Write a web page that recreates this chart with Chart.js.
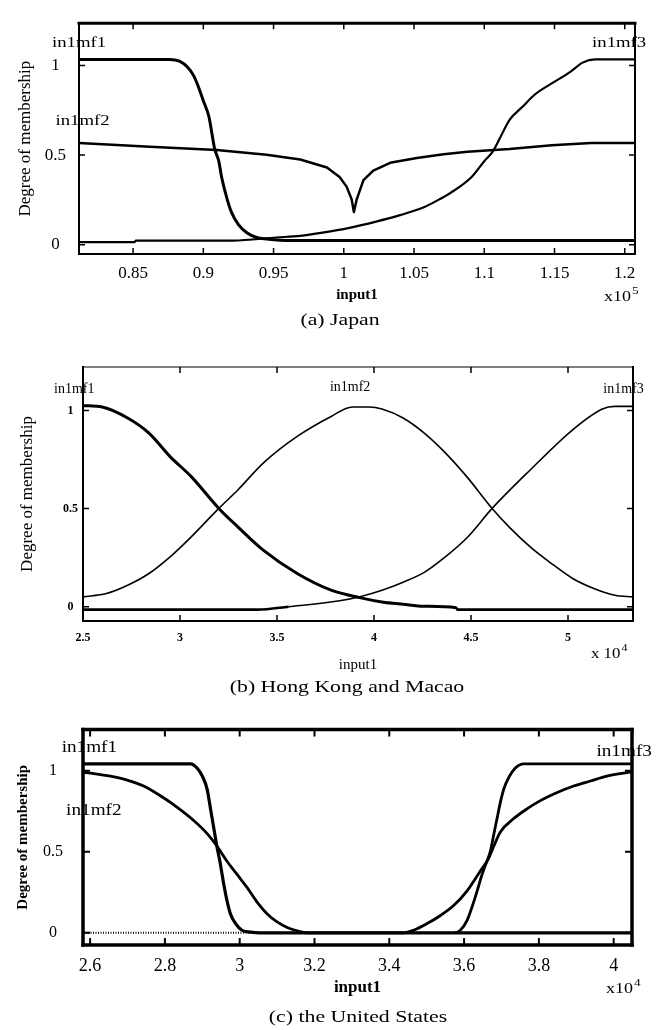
<!DOCTYPE html>
<html>
<head>
<meta charset="utf-8">
<title>Membership functions of input1</title>
<script src="https://cdn.jsdelivr.net/npm/chart.js@4.4.1/dist/chart.umd.min.js"></script>
<style>
  html, body { margin: 0; padding: 0; background: #fff; }
  #page { position: relative; width: 661px; height: 1030px; overflow: hidden; }
  #page canvas { position: absolute; left: 0; }
</style>
</head>
<body>
<div id="page">
  <canvas id="japanChart"></canvas>
  <canvas id="hkChart"></canvas>
  <canvas id="usChart"></canvas>
</div>
<script>
// ---------- (a) Japan, input1 in units of 1e5 ----------
const japanXTicks = [0.85, 0.9, 0.95, 1, 1.05, 1.1, 1.15, 1.2];
const japanXLabels = ['0.85', '0.9', '0.95', '1', '1.05', '1.1', '1.15', '1.2'];
const japanYTicks = [0, 0.5, 1];
const japanYLabels = ['0', '0.5', '1'];

const japanMf1X = [0.8115, 0.876, 0.883, 0.889, 0.893, 0.896, 0.900, 0.904, 0.906, 0.908, 0.911, 0.913, 0.917, 0.920, 0.925, 0.931, 0.938, 0.945, 0.962, 1.2073];
const japanMf1Y = [1.034, 1.034, 1.024, 0.989, 0.945, 0.891, 0.803, 0.714, 0.626, 0.537, 0.466, 0.378, 0.253, 0.182, 0.112, 0.067, 0.040, 0.032, 0.023, 0.023];

const japanMf2X = [0.8115, 0.862, 0.9095, 0.945, 0.969, 0.988, 0.997, 1.002, 1.0056, 1.0072, 1.0092, 1.014, 1.021, 1.033, 1.052, 1.071, 1.088, 1.118, 1.148, 1.176, 1.2073];
const japanMf2Y = [0.567, 0.546, 0.528, 0.502, 0.475, 0.431, 0.378, 0.324, 0.253, 0.182, 0.253, 0.360, 0.413, 0.457, 0.484, 0.505, 0.519, 0.534, 0.555, 0.567, 0.567];

const japanMf3X = [0.8115, 0.851, 0.852, 0.921, 0.952, 0.969, 0.985, 1.004, 1.023, 1.040, 1.057, 1.068, 1.076, 1.091, 1.100, 1.106, 1.112, 1.118, 1.127, 1.136, 1.148, 1.161, 1.170, 1.179, 1.2073];
const japanMf3Y = [0.014, 0.014, 0.023, 0.023, 0.040, 0.049, 0.067, 0.094, 0.129, 0.165, 0.209, 0.253, 0.289, 0.378, 0.466, 0.519, 0.608, 0.697, 0.768, 0.838, 0.900, 0.963, 1.016, 1.034, 1.034];

const japanMfNames = ['in1mf1', 'in1mf2', 'in1mf3'];
const japanMfNameX = [0.8115, 0.814, 1.196];
const japanMfNameY = [1.124, 0.688, 1.124];

// ---------- (b) Hong Kong and Macao, input1 in units of 1e4 ----------
const hkXTicks = [2.5, 3, 3.5, 4, 4.5, 5];
const hkXLabels = ['2.5', '3', '3.5', '4', '4.5', '5'];
const hkYTicks = [0, 0.5, 1];
const hkYLabels = ['0', '0.5', '1'];

const hkMf1X = [2.5, 2.599, 2.730, 2.840, 2.949, 3.058, 3.200, 3.298, 3.429, 3.604, 3.779, 3.932, 4.041, 4.150, 4.259, 4.423, 4.43, 5.335];
const hkMf1Y = [1.025, 1.018, 0.962, 0.885, 0.765, 0.663, 0.501, 0.407, 0.288, 0.169, 0.084, 0.045, 0.024, 0.012, 0.002, -0.005, -0.015, -0.015];

const hkMf2X = [2.5, 2.621, 2.730, 2.840, 2.949, 3.058, 3.200, 3.298, 3.429, 3.604, 3.779, 3.888, 3.975, 4.041, 4.150, 4.259, 4.369, 4.478, 4.609, 4.696, 4.805, 4.915, 5.024, 5.133, 5.242, 5.335];
const hkMf2Y = [0.050, 0.067, 0.109, 0.169, 0.254, 0.356, 0.501, 0.595, 0.732, 0.868, 0.970, 1.018, 1.018, 1.008, 0.962, 0.885, 0.783, 0.663, 0.501, 0.407, 0.305, 0.220, 0.144, 0.093, 0.058, 0.050];

const hkMf3X = [2.5, 3.40, 3.56, 3.823, 3.932, 4.041, 4.150, 4.259, 4.369, 4.478, 4.609, 4.805, 5.024, 5.177, 5.242, 5.335];
const hkMf3Y = [-0.015, -0.015, 0.0, 0.030, 0.052, 0.084, 0.125, 0.175, 0.255, 0.350, 0.501, 0.697, 0.902, 1.008, 1.021, 1.021];

const hkMfNames = ['in1mf1', 'in1mf2', 'in1mf3'];
const hkMfNameX = [2.455, 3.877, 5.286];
const hkMfNameY = [1.106, 1.120, 1.110];

// ---------- (c) the United States, input1 in units of 1e4 ----------
const usXTicks = [2.6, 2.8, 3, 3.2, 3.4, 3.6, 3.8, 4];
const usXLabels = ['2.6', '2.8', '3', '3.2', '3.4', '3.6', '3.8', '4'];
const usYTicks = [0, 0.5, 1];
const usYLabels = ['0', '0.5', '1'];

const usMf1X = [2.581, 2.869, 2.886, 2.900, 2.913, 2.922, 2.931, 2.940, 2.947, 2.953, 2.959, 2.966, 2.975, 2.989, 3.006, 3.029, 3.055, 4.049];
const usMf1Y = [1.042, 1.042, 1.016, 0.966, 0.885, 0.764, 0.642, 0.521, 0.441, 0.360, 0.279, 0.198, 0.118, 0.057, 0.016, 0.004, 0, 0];

const usMf2X = [2.581, 2.610, 2.654, 2.699, 2.743, 2.788, 2.833, 2.877, 2.913, 2.940, 2.966, 2.993, 3.020, 3.047, 3.073, 3.100, 3.127, 3.154, 3.180, 3.438, 3.465, 3.501, 3.537, 3.572, 3.608, 3.643, 3.666, 3.679, 3.697, 3.732, 3.768, 3.804, 3.849, 3.893, 3.938, 3.982, 4.049];
const usMf2Y = [0.990, 0.982, 0.966, 0.942, 0.905, 0.845, 0.774, 0.693, 0.612, 0.532, 0.441, 0.360, 0.279, 0.188, 0.118, 0.067, 0.033, 0.012, 0, 0, 0.016, 0.057, 0.107, 0.168, 0.259, 0.380, 0.461, 0.532, 0.622, 0.703, 0.764, 0.815, 0.865, 0.905, 0.936, 0.966, 0.992];

const usMf3X = [2.581, 3.572, 3.590, 3.608, 3.621, 3.635, 3.648, 3.661, 3.670, 3.679, 3.688, 3.697, 3.706, 3.719, 3.737, 3.759, 4.049];
const usMf3Y = [0, 0, 0.016, 0.077, 0.158, 0.259, 0.360, 0.441, 0.501, 0.602, 0.703, 0.804, 0.885, 0.956, 1.016, 1.042, 1.042];

const usMfNames = ['in1mf1', 'in1mf2', 'in1mf3'];
const usMfNameX = [2.598, 2.61, 4.028];
const usMfNameY = [1.14, 0.75, 1.115];

const SERIF = "'Liberation Serif', 'Times New Roman', serif";
Chart.defaults.color = '#000';
Chart.defaults.font.family = SERIF;

function toPoints(xs, ys) {
    return xs.map((x, i) => ({ x: x, y: ys[i] }));
}

// text in the scanned figure is wider than the font, so stretch it a bit
function drawText(ctx, text, x, y, font, stretch, align, baseline) {
    ctx.save();
    ctx.font = font;
    ctx.fillStyle = '#000';
    ctx.textAlign = align || 'center';
    ctx.textBaseline = baseline || 'middle';
    ctx.translate(x, y);
    ctx.scale(stretch, 1);
    ctx.fillText(text, 0, 0);
    ctx.restore();
}

const mfFramePlugin = {
    id: 'mfFrame',
    afterDraw(chart, args, opts) {
        const { ctx, chartArea: area } = chart;
        const xScale = chart.scales.x;
        const yScale = chart.scales.y;
        const w = opts.frame;

        ctx.save();
        ctx.strokeStyle = '#000';
        ctx.lineCap = 'square';
        const side = (lw, x0, y0, x1, y1) => {
            ctx.lineWidth = lw;
            ctx.beginPath();
            ctx.moveTo(x0, y0);
            ctx.lineTo(x1, y1);
            ctx.stroke();
        };
        side(w.top, area.left, area.top, area.right, area.top);
        side(w.bottom, area.left, area.bottom, area.right, area.bottom);
        side(w.left, area.left, area.top, area.left, area.bottom);
        side(w.right, area.right, area.top, area.right, area.bottom);

        // tick marks point inwards, like the matlab plot
        ctx.lineCap = 'butt';
        ctx.lineWidth = opts.tickWidth;
        ctx.beginPath();
        xScale.ticks.forEach(t => {
            const px = xScale.getPixelForValue(t.value);
            ctx.moveTo(px, area.bottom);
            ctx.lineTo(px, area.bottom - opts.tickLen);
            ctx.moveTo(px, area.top);
            ctx.lineTo(px, area.top + opts.tickLen);
        });
        yScale.ticks.forEach(t => {
            const py = yScale.getPixelForValue(t.value);
            ctx.moveTo(area.left, py);
            ctx.lineTo(area.left + opts.tickLen, py);
            ctx.moveTo(area.right, py);
            ctx.lineTo(area.right - opts.tickLen, py);
        });
        ctx.stroke();
        ctx.restore();

        // membership function names
        opts.names.forEach((name, i) => {
            drawText(ctx, name, xScale.getPixelForValue(opts.nameX[i]), yScale.getPixelForValue(opts.nameY[i]),
                opts.nameFont, opts.nameStretch);
        });

        // x10^n multiplier under the right end of the axis
        const ex = area.right + opts.expo.dx;
        const ey = area.bottom + opts.expo.dy;
        ctx.save();
        ctx.font = opts.expo.font;
        const baseWidth = ctx.measureText(opts.expo.base).width * opts.expo.stretch;
        ctx.restore();
        drawText(ctx, opts.expo.base, ex, ey, opts.expo.font, opts.expo.stretch, 'left', 'alphabetic');
        drawText(ctx, opts.expo.power, ex + baseWidth + 1, ey - 7, opts.expo.supFont, opts.expo.stretch, 'left', 'alphabetic');

        // panel caption
        drawText(ctx, opts.caption, opts.captionX, area.bottom + opts.captionDy, opts.captionFont, 1.28);
    }
};

function buildPanel(id, p) {
    const canvas = document.getElementById(id);
    canvas.width = 661;
    canvas.height = p.height;
    canvas.style.top = p.top + 'px';

    const datasets = p.series.map(s => ({
        data: toPoints(s.x, s.y),
        showLine: true,
        borderColor: '#000',
        borderWidth: s.width,
        borderJoinStyle: 'round',
        pointRadius: 0,
        cubicInterpolationMode: s.sharp ? 'default' : 'monotone',
        tension: 0,
        segment: s.segment || {}
    }));

    return new Chart(canvas, {
        type: 'scatter',
        data: { datasets: datasets },
        options: {
            responsive: false,
            animation: false,
            events: [],
            layout: { padding: p.padding },
            plugins: {
                legend: { display: false },
                tooltip: { enabled: false },
                mfFrame: p.frameOpts
            },
            scales: {
                x: {
                    type: 'linear',
                    min: p.xMin,
                    max: p.xMax,
                    afterBuildTicks: scale => { scale.ticks = p.xTicks.map(v => ({ value: v })); },
                    afterFit: scale => { scale.height = p.xAxisHeight; },
                    grid: { display: false, drawTicks: false },
                    border: { display: false },
                    ticks: {
                        autoSkip: false,
                        maxRotation: 0,
                        padding: p.xTickPadding,
                        font: p.xTickFont,
                        callback: (v, i) => p.xLabels[i]
                    },
                    title: {
                        display: true,
                        text: 'input1',
                        font: p.xTitleFont,
                        padding: { top: 0, bottom: p.xTitlePad }
                    }
                },
                y: {
                    type: 'linear',
                    min: p.yMin,
                    max: p.yMax,
                    afterBuildTicks: scale => { scale.ticks = p.yTicks.map(v => ({ value: v })); },
                    afterFit: scale => { scale.width = p.yAxisWidth; },
                    grid: { display: false, drawTicks: false },
                    border: { display: false },
                    ticks: {
                        crossAlign: 'center',
                        padding: p.yTickPadding,
                        font: p.yTickFont,
                        callback: (v, i) => p.yLabels[i]
                    },
                    title: {
                        display: true,
                        text: 'Degree of membership',
                        font: p.yTitleFont,
                        padding: { top: p.yTitlePad, bottom: 0 }
                    }
                }
            }
        },
        plugins: [mfFramePlugin]
    });
}

const zeroSeg = ctx => ctx.p0.parsed.y <= 0 && ctx.p1.parsed.y <= 0;

buildPanel('japanChart', {
    top: 0, height: 335,
    padding: { left: 0, top: 12, right: 26, bottom: 30 },
    xMin: 0.8115, xMax: 1.2073, yMin: -0.052, yMax: 1.236,
    xTicks: japanXTicks, xLabels: japanXLabels,
    yTicks: japanYTicks, yLabels: japanYLabels,
    xAxisHeight: 51, yAxisWidth: 79,
    xTickPadding: 9, yTickPadding: 13,
    xTickFont: { size: 17 }, yTickFont: { size: 17 },
    xTitleFont: { size: 15, weight: 'bold' }, xTitlePad: 1,
    yTitleFont: { size: 17 }, yTitlePad: 15,
    series: [
        { x: japanMf1X, y: japanMf1Y, width: 3 },
        { x: japanMf2X, y: japanMf2Y, width: 2.5, sharp: true },
        { x: japanMf3X, y: japanMf3Y, width: 2.2 }
    ],
    frameOpts: {
        frame: { top: 3, right: 2, bottom: 2, left: 2 },
        tickLen: 6, tickWidth: 1.5,
        names: japanMfNames, nameX: japanMfNameX, nameY: japanMfNameY,
        nameFont: '15px ' + SERIF, nameStretch: 1.25,
        expo: { base: 'x10', power: '5', dx: -31, dy: 47, font: '15px ' + SERIF, supFont: '11px ' + SERIF, stretch: 1.2 },
        caption: '(a) Japan', captionX: 340, captionDy: 67, captionFont: '17px ' + SERIF
    }
});

buildPanel('hkChart', {
    top: 335, height: 365,
    padding: { left: 0, top: 32, right: 28, bottom: 25 },
    xMin: 2.5, xMax: 5.335, yMin: -0.073, yMax: 1.222,
    xTicks: hkXTicks, xLabels: hkXLabels,
    yTicks: hkYTicks, yLabels: hkYLabels,
    xAxisHeight: 54, yAxisWidth: 83,
    xTickPadding: 10, yTickPadding: 5,
    xTickFont: { size: 12, weight: 'bold' }, yTickFont: { size: 12, weight: 'bold' },
    xTitleFont: { size: 15 }, xTitlePad: 1,
    yTitleFont: { size: 17 }, yTitlePad: 17,
    series: [
        { x: hkMf1X, y: hkMf1Y, width: 3, segment: { borderWidth: c => zeroSeg(c) ? 2.6 : 3 } },
        { x: hkMf2X, y: hkMf2Y, width: 1.6 },
        { x: hkMf3X, y: hkMf3Y, width: 1.6, segment: { borderWidth: c => zeroSeg(c) ? 2.6 : 1.6 } }
    ],
    frameOpts: {
        frame: { top: 1, right: 2, bottom: 2, left: 2 },
        tickLen: 6, tickWidth: 1.5,
        names: hkMfNames, nameX: hkMfNameX, nameY: hkMfNameY,
        nameFont: '14px ' + SERIF, nameStretch: 1.0,
        expo: { base: 'x 10', power: '4', dx: -42, dy: 37, font: '14px ' + SERIF, supFont: '10px ' + SERIF, stretch: 1.2 },
        caption: '(b) Hong Kong and Macao', captionX: 347, captionDy: 67, captionFont: '17px ' + SERIF
    }
});

buildPanel('usChart', {
    top: 700, height: 330,
    padding: { left: 0, top: 26, right: 29, bottom: 31 },
    xMin: 2.581, xMax: 4.049, yMin: -0.075, yMax: 1.253,
    xTicks: usXTicks, xLabels: usXLabels,
    yTicks: usYTicks, yLabels: usYLabels,
    xAxisHeight: 54, yAxisWidth: 83,
    xTickPadding: 10, yTickPadding: 20,
    xTickFont: { size: 18 }, yTickFont: { size: 16 },
    xTitleFont: { size: 17, weight: 'bold' }, xTitlePad: 1,
    yTitleFont: { size: 15, weight: 'bold' }, yTitlePad: 14.5,
    series: [
        { x: usMf1X, y: usMf1Y, width: 3.2 },
        { x: usMf2X, y: usMf2Y, width: 2.8 },
        { x: usMf3X, y: usMf3Y, width: 2.8, segment: { borderDash: c => zeroSeg(c) ? [1, 1.5] : undefined, borderWidth: c => zeroSeg(c) ? 2 : 2.8 } }
    ],
    frameOpts: {
        frame: { top: 3.5, right: 3.5, bottom: 3.5, left: 3.5 },
        tickLen: 7, tickWidth: 2,
        names: usMfNames, nameX: usMfNameX, nameY: usMfNameY,
        nameFont: '16px ' + SERIF, nameStretch: 1.2,
        expo: { base: 'x10', power: '4', dx: -26, dy: 48, font: '15px ' + SERIF, supFont: '11px ' + SERIF, stretch: 1.2 },
        caption: '(c) the United States', captionX: 358, captionDy: 73, captionFont: '17px ' + SERIF
    }
});
</script>
</body>
</html>
